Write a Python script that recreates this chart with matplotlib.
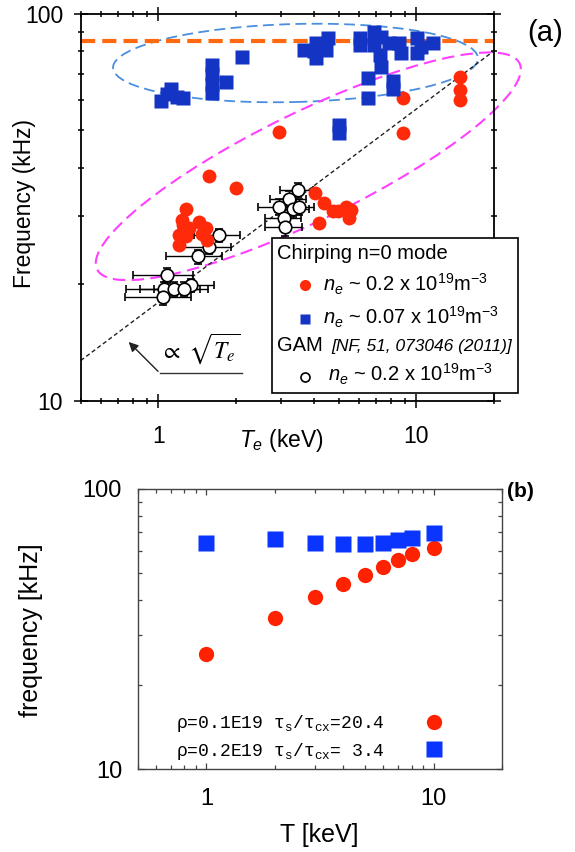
import matplotlib
matplotlib.use('Agg')
import matplotlib.pyplot as plt
from matplotlib.patches import Ellipse, Rectangle
from matplotlib.transforms import Affine2D
import numpy as np

plt.rcParams['font.family'] = ['Liberation Sans', 'DejaVu Sans']
plt.rcParams['mathtext.fontset'] = 'custom'
plt.rcParams['mathtext.rm'] = 'Liberation Sans'
plt.rcParams['mathtext.it'] = 'Liberation Sans:italic'
plt.rcParams['mathtext.bf'] = 'Liberation Sans:bold'
plt.rcParams['mathtext.tt'] = 'Liberation Mono'

# ---- panel (a) data: chirping n=0 mode and GAM ----
red_T = [8.87, 14.7, 14.7, 14.7, 2.94, 8.87, 1.57, 2.0, 1.28, 4.03, 4.4, 4.74,
         4.21, 5.34, 5.5, 4.95, 5.6, 1.24, 1.2, 1.2, 1.44, 1.53, 1.55, 1.32,
         1.48, 1.28, 1.25]
red_f = [60.5, 68.8, 63.6, 59.9, 49.6, 49.1, 38.1, 35.5, 31.3, 34.5, 32.4, 30.9,
         28.8, 31.7, 29.6, 30.9, 31.2, 29.3, 26.8, 25.3, 29.0, 27.9, 26.0, 27.9,
         27.0, 26.6, 28.5]

blue_T = [1.02, 1.08, 1.12, 1.18, 1.25, 1.61, 1.61, 1.61, 1.61, 1.83, 2.11,
          3.68, 4.09, 4.53, 4.09, 4.47, 4.0, 6.03, 6.88, 7.3, 6.03, 6.88, 7.2,
          7.3, 6.5, 8.1, 8.1, 6.5, 8.75, 8.6, 7.85, 10.1, 10.1, 11.6, 10.4,
          5.03, 5.03]
blue_f = [59.5, 62.0, 64.0, 61.0, 60.5, 74.0, 70.0, 66.0, 62.4, 66.8, 77.5,
          80.7, 84.0, 86.5, 76.8, 80.7, 80.0, 86.5, 90.0, 87.4, 83.2, 83.2, 78.4,
          73.1, 68.2, 64.0, 67.0, 60.5, 79.1, 84.0, 84.0, 86.5, 79.1, 84.0, 82.0,
          49.3, 51.5]

gam_T = [3.47, 3.22, 2.94, 3.32, 3.52, 3.08, 3.1, 1.72, 1.57, 1.42, 1.08,
         1.05, 1.15, 1.34, 1.04, 1.26]
gam_f = [35.1, 33.3, 31.7, 31.4, 31.7, 29.6, 28.1, 26.8, 25.0, 23.6, 21.1,
         19.5, 19.5, 19.9, 18.5, 19.5]
gam_Terr = [0.5, 0.5, 0.5, 0.5, 0.5, 0.5, 0.5, 0.35, 0.35, 0.35, 0.28,
            0.3, 0.3, 0.3, 0.3, 0.3]
gam_ferr = [1.5, 1.5, 1.5, 1.5, 1.5, 1.5, 1.5, 1.0, 1.0, 1.0, 1.0,
            0.8, 0.8, 0.8, 0.8, 0.8]

sqrt_T = [0.5, 20]
sqrt_f = [12.7, 80.3]
f_limit = 85

# ---- panel (b) data: model ----
model_T = [1, 2, 3, 4, 5, 6, 7, 8, 10]
model_low = [25.7, 34.7, 41.2, 45.7, 49.3, 52.8, 55.8, 58.4, 61.7]
model_high = [64.0, 66.3, 64.0, 63.6, 63.8, 64.0, 65.6, 66.7, 69.4]
model_labels = [r'ρ=0.1E19 τ$_{\mathtt{s}}$/τ$_{\mathtt{cx}}$=20.4',
                r'ρ=0.2E19 τ$_{\mathtt{s}}$/τ$_{\mathtt{cx}}$= 3.4']

fig = plt.figure(figsize=(5.75, 8.52), dpi=100)

# ================= (a) =================
AX_W, AX_H = 413.3, 386.7
ax = fig.add_axes([80.7 / 575, 451.3 / 852, AX_W / 575, AX_H / 852])
ax.set_xscale('log')
ax.set_yscale('log')
ax.set_xlim(0.5, 20)
ax.set_ylim(10, 100)

px = Affine2D().scale(1 / AX_W, 1 / AX_H) + ax.transAxes

ax.axhline(f_limit, color='#ff6a10', lw=3, ls=(0, (3.4, 1.7)), zorder=2)
ax.plot(sqrt_T, sqrt_f, color='#222222', lw=1, ls=(0, (3, 2)), zorder=2)

ax.add_patch(Ellipse((214.8, 337.7), 365, 78, angle=1.5, transform=px,
                     fill=False, ec='#4a8ee0', lw=1.3, ls=(0, (6, 3)), zorder=1))
ax.add_patch(Ellipse((227.6, 234.4), 470, 108, angle=26, transform=px,
                     fill=False, ec='#ff40ff', lw=1.5, ls=(0, (6, 3)),
                     clip_on=False, zorder=1))

ax.errorbar(gam_T, gam_f, xerr=gam_Terr, yerr=gam_ferr, fmt='o', ms=9,
            mfc='white', mec='black', mew=1.2, ecolor='black', elinewidth=1,
            capsize=3, zorder=3)
ax.plot(red_T, red_f, 'o', ms=10, color='#ff2a0a', mec='none', zorder=4)
ax.plot(blue_T, blue_f, 's', ms=9.5, color='#1434c4', mec='none', zorder=4)

ax.tick_params(which='both', direction='inout', top=True, right=True,
               width=1.1, labelsize=16.5)
ax.tick_params(which='major', length=9.4)
ax.tick_params(which='minor', length=5)
ax.tick_params(axis='x', pad=12.5)
ax.tick_params(axis='y', pad=8)
ax.set_xticks([1, 10], ['1', '10'])
ax.set_yticks([10, 100], ['10', '100'])
ax.xaxis.set_minor_formatter(matplotlib.ticker.NullFormatter())
ax.yaxis.set_minor_formatter(matplotlib.ticker.NullFormatter())
for s in ax.spines.values():
    s.set_linewidth(1.3)

ax.set_xlabel(r'$T_e$ (keV)', fontsize=16.5)
ax.xaxis.set_label_coords(0.486, -0.068)
ax.set_ylabel('Frequency (kHz)', fontsize=16.5)
ax.yaxis.set_label_coords(-0.107, 0.509)

# sqrt(Te) annotation
ax.plot([0.3895, 0.1919], [0.0709, 0.0709], color='#333333', lw=1,
        transform=ax.transAxes)
ax.annotate('', xy=(0.1113, 0.157), xytext=(0.1919, 0.0709),
            xycoords='axes fraction', textcoords='axes fraction',
            arrowprops=dict(arrowstyle='-|>', color='#222222', lw=1,
                            mutation_scale=14))
ax.text(0.2887, 0.1337, r'$\propto\ \sqrt{T_e}$', transform=ax.transAxes,
        ha='center', va='center', fontsize=17, math_fontfamily='stix')

# legend box
ax.add_patch(Rectangle((0.4629, 0.0191), 0.596, 0.401, transform=ax.transAxes,
                       fc='white', ec='black', lw=1.2, clip_on=False, zorder=6))
ax.text(0.475, 0.381, 'Chirping n=0 mode', transform=ax.transAxes,
        fontsize=14.5, va='center', zorder=7)
ax.plot([0.5427], [0.2992], 'o', ms=8, color='#ff2a0a', mec='none',
        transform=ax.transAxes, clip_on=False, zorder=7)
ax.text(0.586, 0.2819, r'$n_e$ ~ 0.2 x 10$^{19}$m$^{-3}$', transform=ax.transAxes,
        fontsize=14.5, va='baseline', zorder=7)
ax.plot([0.5427], [0.2113], 's', ms=7, color='#1434c4', mec='none',
        transform=ax.transAxes, clip_on=False, zorder=7)
ax.text(0.586, 0.1958, r'$n_e$ ~ 0.07 x 10$^{19}$m$^{-3}$', transform=ax.transAxes,
        fontsize=14.5, va='baseline', zorder=7)
ax.text(0.4742, 0.1293, 'GAM', transform=ax.transAxes,
        fontsize=14.5, va='baseline', zorder=7)
ax.text(0.6073, 0.1293, '[NF, 51, 073046 (2011)]', transform=ax.transAxes,
        fontsize=12.5, style='italic', va='baseline', zorder=7)
ax.plot([0.5427], [0.0613], 'o', ms=6.5, mfc='white', mec='black', mew=1.2,
        transform=ax.transAxes, clip_on=False, zorder=7)
ax.text(0.5984, 0.0491, r'$n_e$ ~ 0.2 x 10$^{19}$m$^{-3}$', transform=ax.transAxes,
        fontsize=14.5, va='baseline', zorder=7)

fig.text(545 / 575, 1 - 33 / 852, '(a)', fontsize=21, ha='center', va='center')

# ================= (b) =================
bx = fig.add_axes([138 / 575, 83 / 852, 364 / 575, 280 / 852])
bx.set_xscale('log')
bx.set_yscale('log')
bx.set_xlim(0.5, 20)
bx.set_ylim(10, 100)

bx.plot(model_T, model_low, 'o', ms=11, color='#ff2200', mec='none',
        label=model_labels[0])
bx.plot(model_T, model_high, 's', ms=11, color='#0a35ff', mec='none',
        label=model_labels[1])

bx.tick_params(which='both', direction='in', top=True, right=True,
               width=0.9, labelsize=17, color='#444444')
bx.tick_params(which='major', length=4.5)
bx.tick_params(which='minor', length=2.6)
bx.tick_params(axis='x', pad=13.5)
bx.tick_params(axis='y', pad=11.5)
bx.set_xticks([1, 10], ['1', '10'])
bx.set_yticks([10, 100], ['10', '100'])
bx.xaxis.set_minor_formatter(matplotlib.ticker.NullFormatter())
bx.yaxis.set_minor_formatter(matplotlib.ticker.NullFormatter())
for s in bx.spines.values():
    s.set_linewidth(1)
    s.set_color('#444444')

bx.set_xlabel('T [keV]', fontsize=18)
bx.xaxis.set_label_coords(0.497, -0.193)
bx.set_ylabel('frequency [kHz]', fontsize=18)
bx.yaxis.set_label_coords(-0.26, 0.496)

bx.legend(loc='lower left', bbox_to_anchor=(0.085, 0.0), frameon=False,
          markerfirst=False, prop={'family': 'Liberation Mono', 'size': 13},
          handlelength=1.0, handletextpad=2.2, labelspacing=0.35,
          borderaxespad=0)

fig.text(520 / 575, 1 - 491 / 852, '(b)', fontsize=15, fontweight='bold',
         ha='center', va='center')

fig.savefig('out.png', dpi=100)
